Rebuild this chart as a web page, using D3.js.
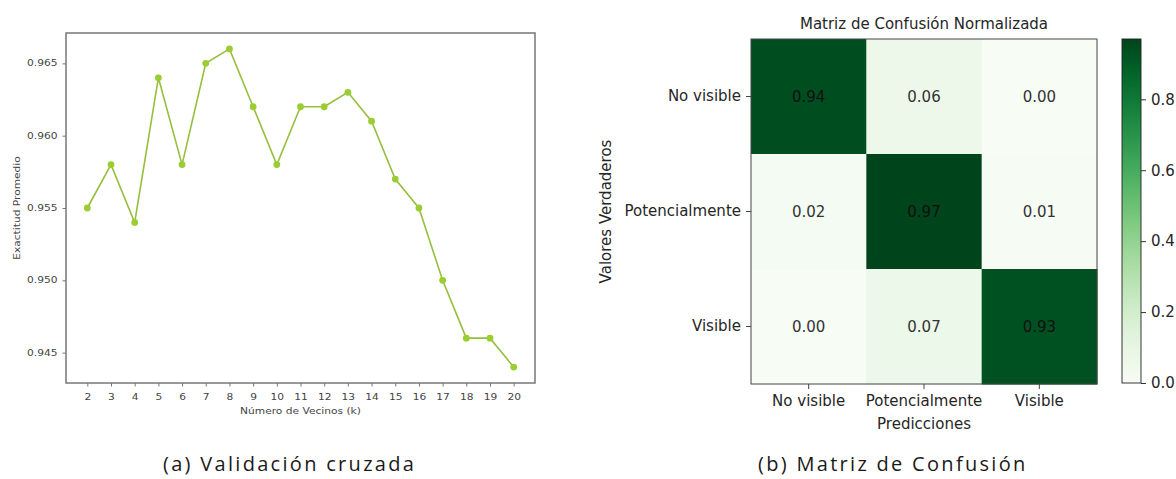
<!DOCTYPE html>
<html>
<head>
<meta charset="utf-8">
<script src="https://cdn.jsdelivr.net/npm/d3@7"></script>
<style>
  html, body { margin: 0; padding: 0; background: #fff; }
  svg { display: block; }
</style>
</head>
<body>
<svg id="fig" width="1176" height="479"></svg>
<script>
// ---- Validación cruzada: mean accuracy per k ----
const kValues = [2, 3, 4, 5, 6, 7, 8, 9, 10, 11, 12, 13, 14, 15, 16, 17, 18, 19, 20];
const accuracy = [0.955, 0.958, 0.954, 0.964, 0.958, 0.965, 0.966, 0.962, 0.958, 0.962,
                  0.962, 0.963, 0.961, 0.957, 0.955, 0.950, 0.946, 0.946, 0.944];
const accTicks = [0.945, 0.950, 0.955, 0.960, 0.965];

// ---- Matriz de confusión normalizada ----
const classes = ["No visible", "Potencialmente", "Visible"];
const matrixRows = [
  [0.94, 0.06, 0.00],
  [0.02, 0.97, 0.01],
  [0.00, 0.07, 0.93]
];
const cbarTicks = [0.0, 0.2, 0.4, 0.6, 0.8];

const svg = d3.select("#fig");

// ================= left panel: line chart =================
const L = { left: 66, right: 535, top: 33, bottom: 383 };
const kExt = d3.extent(kValues), aExt = d3.extent(accuracy);
const kPad = (kExt[1] - kExt[0]) * 0.05, aPad = (aExt[1] - aExt[0]) * 0.05;
const x = d3.scaleLinear().domain([kExt[0] - kPad, kExt[1] + kPad]).range([L.left, L.right]);
const y = d3.scaleLinear().domain([aExt[0] - aPad, aExt[1] + aPad]).range([L.bottom, L.top]);

const leftTxt = "#444";
const fs = 8.2;
const stretch = 1.3;   // wide glyphs of the small axis font

const gx = svg.append("g").attr("transform", `translate(0,${L.bottom})`)
  .call(d3.axisBottom(x).tickValues(kValues).tickFormat(d3.format("d")).tickSizeOuter(0).tickSize(3.5));
gx.select(".domain").remove();
gx.selectAll(".tick line").attr("stroke", "#666").attr("stroke-width", 0.9);
gx.selectAll(".tick text")
  .attr("y", 0).attr("dy", 0)
  .attr("transform", `translate(0,17) scale(${stretch},1)`)
  .attr("fill", leftTxt).attr("font-family", "DejaVu Sans").attr("font-size", fs);

const gy = svg.append("g").attr("transform", `translate(${L.left},0)`)
  .call(d3.axisLeft(y).tickValues(accTicks).tickFormat(d3.format(".3f")).tickSizeOuter(0).tickSize(3.5));
gy.select(".domain").remove();
gy.selectAll(".tick line").attr("stroke", "#666").attr("stroke-width", 0.9);
gy.selectAll(".tick text")
  .attr("x", 0).attr("dy", "0.32em")
  .attr("transform", `translate(-8.5,0) scale(${stretch},1)`)
  .attr("fill", leftTxt).attr("font-family", "DejaVu Sans").attr("font-size", fs);

// frame
svg.append("rect")
  .attr("x", L.left).attr("y", L.top)
  .attr("width", L.right - L.left).attr("height", L.bottom - L.top)
  .attr("fill", "none").attr("stroke", "#777").attr("stroke-width", 1.5);

// line + markers
const pts = kValues.map((k, i) => ({ k, a: accuracy[i] }));
svg.append("path").datum(pts)
  .attr("fill", "none").attr("stroke", "#96bf3e").attr("stroke-width", 1.6)
  .attr("d", d3.line().x(d => x(d.k)).y(d => y(d.a)));
svg.append("g").selectAll("circle").data(pts).join("circle")
  .attr("cx", d => x(d.k)).attr("cy", d => y(d.a)).attr("r", 3.4)
  .attr("fill", "#9acd32");

// axis labels
svg.append("text")
  .attr("transform", `translate(${(L.left + L.right) / 2},414) scale(${stretch},1)`)
  .attr("text-anchor", "middle").attr("font-family", "DejaVu Sans").attr("font-size", fs)
  .attr("fill", leftTxt).text("Número de Vecinos (k)");
svg.append("text")
  .attr("transform", `translate(20,${(L.top + L.bottom) / 2}) rotate(-90) scale(${stretch},1)`)
  .attr("text-anchor", "middle").attr("font-family", "DejaVu Sans").attr("font-size", fs)
  .attr("fill", leftTxt).text("Exactitud Promedio");

// ================= right panel: heatmap =================
const M = { left: 751, right: 1097, top: 39, bottom: 384 };
const cx = d3.scaleBand().domain(classes).range([M.left, M.right]);
const cy = d3.scaleBand().domain(classes).range([M.top, M.bottom]);
const vMax = d3.max(matrixRows.flat());
const color = d3.scaleSequential(d3.interpolateGreens).domain([0, vMax]);

const cells = [];
matrixRows.forEach((row, i) => row.forEach((v, j) => cells.push({ r: classes[i], c: classes[j], v })));

svg.append("g").selectAll("rect").data(cells).join("rect")
  .attr("x", d => cx(d.c)).attr("y", d => cy(d.r))
  .attr("width", cx.bandwidth() + 0.5).attr("height", cy.bandwidth() + 0.5)
  .attr("fill", d => color(d.v));

svg.append("g").selectAll("text").data(cells).join("text")
  .attr("x", d => cx(d.c) + cx.bandwidth() / 2)
  .attr("y", d => cy(d.r) + cy.bandwidth() / 2)
  .attr("dy", "0.36em").attr("text-anchor", "middle")
  .attr("font-family", "DejaVu Sans").attr("font-size", 15)
  .attr("fill", d => d.v > 0.5 ? "#111" : "#333")
  .text(d => d3.format(".2f")(d.v));

svg.append("rect")
  .attr("x", M.left).attr("y", M.top)
  .attr("width", M.right - M.left).attr("height", M.bottom - M.top)
  .attr("fill", "none").attr("stroke", "#444").attr("stroke-width", 1);

const txt = "#262626";
const hx = svg.append("g").attr("transform", `translate(0,${M.bottom})`)
  .call(d3.axisBottom(cx).tickSizeOuter(0).tickSize(5).tickPadding(6));
hx.select(".domain").remove();
hx.selectAll(".tick line").attr("stroke", "#444");
hx.selectAll(".tick text").attr("fill", txt).attr("font-family", "DejaVu Sans").attr("font-size", 15);

const hy = svg.append("g").attr("transform", `translate(${M.left},0)`)
  .call(d3.axisLeft(cy).tickSizeOuter(0).tickSize(5).tickPadding(5));
hy.select(".domain").remove();
hy.selectAll(".tick line").attr("stroke", "#444");
hy.selectAll(".tick text").attr("fill", txt).attr("font-family", "DejaVu Sans").attr("font-size", 15);

svg.append("text")
  .attr("x", (M.left + M.right) / 2).attr("y", 429).attr("text-anchor", "middle")
  .attr("font-family", "DejaVu Sans").attr("font-size", 15).attr("fill", txt).text("Predicciones");
svg.append("text")
  .attr("transform", `translate(611,${(M.top + M.bottom) / 2}) rotate(-90)`)
  .attr("text-anchor", "middle")
  .attr("font-family", "DejaVu Sans").attr("font-size", 15).attr("fill", txt).text("Valores Verdaderos");
svg.append("text")
  .attr("x", (M.left + M.right) / 2).attr("y", 29).attr("text-anchor", "middle")
  .attr("font-family", "DejaVu Sans").attr("font-size", 15).attr("fill", txt)
  .text("Matriz de Confusión Normalizada");

// colorbar
const C = { left: 1122, right: 1141, top: 39, bottom: 383 };
const cs = d3.scaleLinear().domain([0, vMax]).range([C.bottom, C.top]);
const defs = svg.append("defs");
const grad = defs.append("linearGradient").attr("id", "greens")
  .attr("x1", 0).attr("y1", 1).attr("x2", 0).attr("y2", 0);
d3.range(0, 1.0001, 0.05).forEach(t => {
  grad.append("stop").attr("offset", t).attr("stop-color", color(t * vMax));
});
svg.append("rect")
  .attr("x", C.left).attr("y", C.top).attr("width", C.right - C.left).attr("height", C.bottom - C.top)
  .attr("fill", "url(#greens)").attr("stroke", "#222").attr("stroke-width", 0.9);
const cb = svg.append("g").attr("transform", `translate(${C.right},0)`)
  .call(d3.axisRight(cs).tickValues(cbarTicks).tickFormat(d3.format(".1f")).tickSizeOuter(0).tickSize(5).tickPadding(5));
cb.select(".domain").remove();
cb.selectAll(".tick line").attr("stroke", "#333");
cb.selectAll(".tick text").attr("fill", txt).attr("font-family", "DejaVu Sans").attr("font-size", 15);

// ================= captions =================
const captions = [
  { x: 163, text: "(a) Validación cruzada" },
  { x: 758, text: "(b) Matriz de Confusión" }
];
svg.append("g").selectAll("text").data(captions).join("text")
  .attr("x", d => d.x).attr("y", 471)
  .attr("font-family", "Open Sans").attr("font-size", 20).attr("letter-spacing", 2.3)
  .attr("fill", "#1a1a1a").text(d => d.text);
</script>
</body>
</html>
